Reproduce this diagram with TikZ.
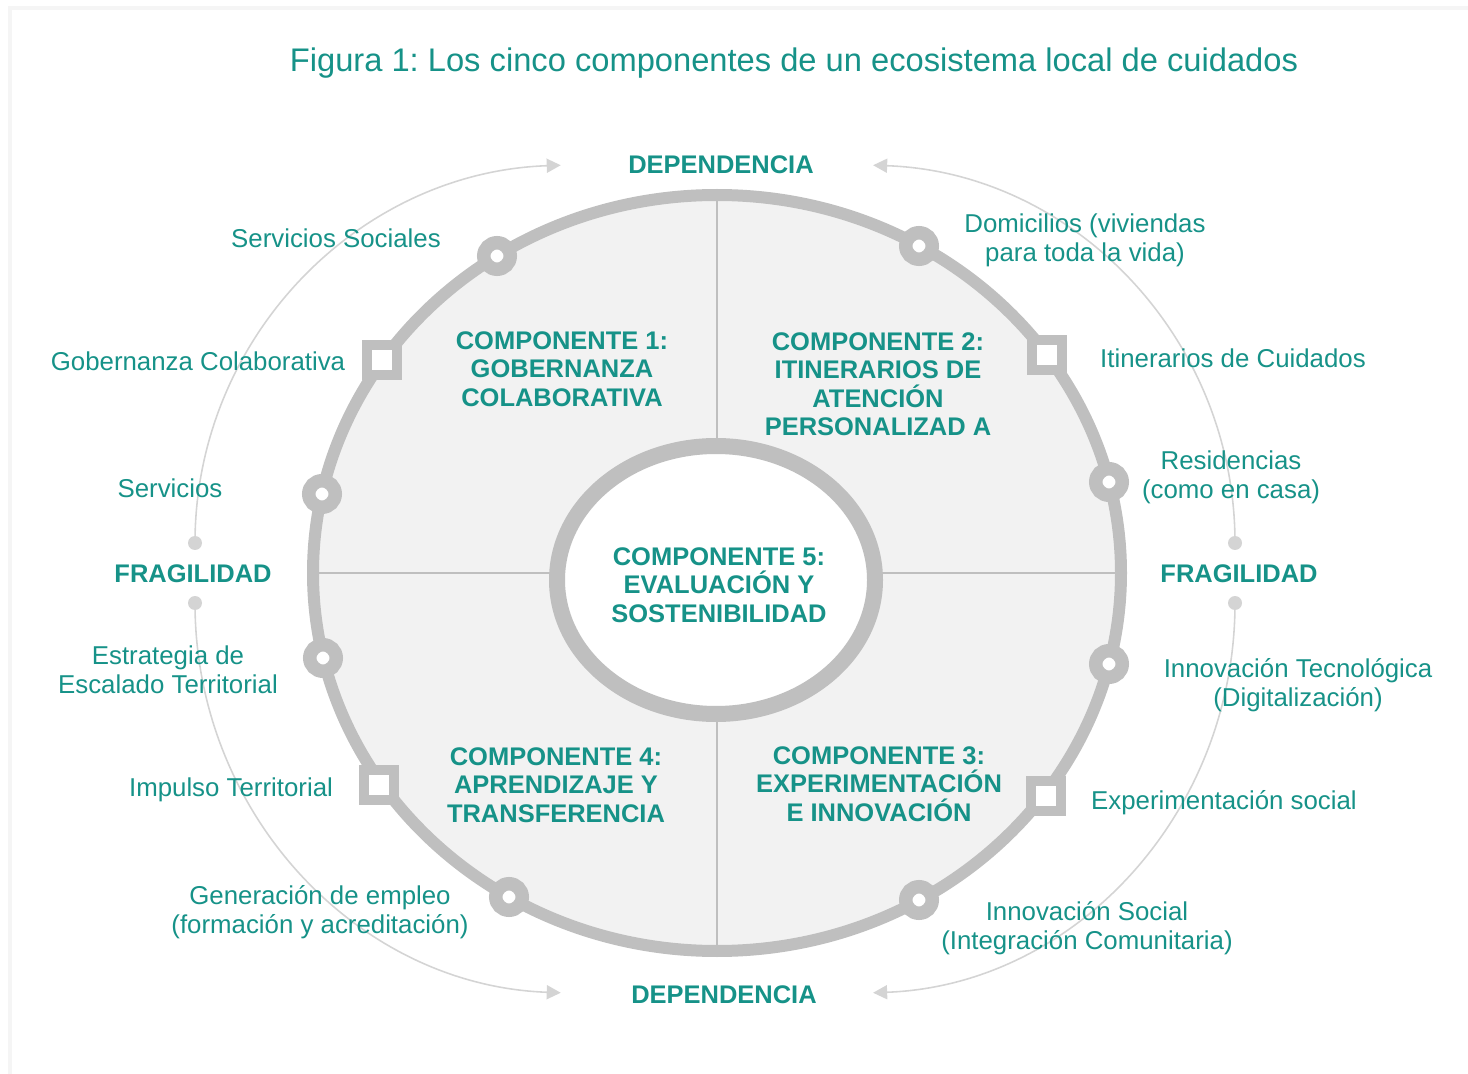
\documentclass[tikz,border=0pt]{standalone}
\usepackage{fontspec}
\setmainfont{Liberation Sans}
\frenchspacing
\usetikzlibrary{positioning}
\usetikzlibrary{arrows.meta}
\definecolor{cuidteal}{RGB}{22,146,136}
\definecolor{ringgray}{RGB}{191,191,191}
\definecolor{fillgray}{RGB}{242,242,242}
\definecolor{arcgray}{RGB}{212,212,212}
\tikzstyle{ringm} = [circle,draw=ringgray,fill=white,line width=0.27cm,minimum size=0.53cm,inner sep=0pt]
\tikzstyle{squarem} = [rectangle,draw=ringgray,fill=white,line width=0.2cm,minimum size=0.6cm,inner sep=0pt]
\tikzstyle{comp} = [text=cuidteal,font=\fontsize{14.5}{16.2}\selectfont\bfseries,align=center]
\tikzstyle{lab} = [text=cuidteal,font=\fontsize{14.7}{16.4}\selectfont,align=center]
\tikzstyle{dot} = [circle,fill=arcgray,minimum size=0.28cm,inner sep=0pt]
\tikzstyle{flow} = [draw=arcgray,line width=0.9pt]
\tikzset{>={Triangle[length=8pt,width=8pt]}}

\begin{document}
\begin{tikzpicture}[x=0.02cm,y=-0.02cm]
  \useasboundingbox (0,0) rectangle (1468,1074);
  \draw [black!4,line width=0.08cm] (10,1074) -- (10,8) -- (1468,8);

  \node [text=cuidteal,font=\fontsize{18.6}{21}\selectfont] (title) at (794,63)
  {Figura 1: Los cinco componentes de un ecosistema local de cuidados};

  % outer flows
  \node [dot] (dl1) at (195,543) {};
  \node [dot] (dl2) at (195,603) {};
  \node [dot] (dr1) at (1235,543) {};
  \node [dot] (dr2) at (1235,603) {};
  \draw [flow,->] (dl1.center) arc [start angle=180,end angle=268,x radius=379,y radius=378];
  \draw [flow,->] (dl2.center) arc [start angle=180,end angle=92,x radius=379,y radius=390];
  \draw [flow,->] (dr1.center) arc [start angle=0,end angle=-88,x radius=375,y radius=378];
  \draw [flow,->] (dr2.center) arc [start angle=0,end angle=88,x radius=375,y radius=390];

  % ring
  \draw [ringgray,line width=0.24cm,fill=fillgray] (717,573) ellipse [x radius=404,y radius=378];
  \draw [ringgray,line width=0.04cm] (717,195) -- (717,951);
  \draw [ringgray,line width=0.04cm] (313,573) -- (1121,573);
  \draw [ringgray,line width=0.32cm,fill=white] (716,580) ellipse [x radius=159,y radius=134];

  \node [ringm] (m1) at (497,256) {};
  \node [squarem] (s1) at (382,360) {};
  \node [ringm] (m2) at (322,494) {};
  \node [ringm] (m3) at (323,658) {};
  \node [squarem] (s2) at (379,785) {};
  \node [ringm] (m4) at (509,897) {};
  \node [ringm] (m5) at (919,246) {};
  \node [squarem] (s3) at (1047,355) {};
  \node [ringm] (m6) at (1109,482) {};
  \node [ringm] (m7) at (1109,664) {};
  \node [squarem] (s4) at (1046,796) {};
  \node [ringm] (m8) at (919,900) {};

  % components
  \node [comp] (c1) at (562,369) {COMPONENTE 1:\\GOBERNANZA\\COLABORATIVA};
  \node [comp] (c2) at (878,384) {COMPONENTE 2:\\ITINERARIOS DE\\ATENCIÓN\\PERSONALIZAD A};
  \node [comp] (c5) at (719,585) {COMPONENTE 5:\\EVALUACIÓN Y\\SOSTENIBILIDAD};
  \node [comp] (c4) at (556,785) {COMPONENTE 4:\\APRENDIZAJE Y\\TRANSFERENCIA};
  \node [comp] (c3) at (879,784) {COMPONENTE 3:\\EXPERIMENTACIÓN\\E INNOVACIÓN};

  \node [comp] (depT) at (721,165) {DEPENDENCIA};
  \node [comp] (depB) at (724,995) {DEPENDENCIA};
  \node [comp] (fragL) at (193,574) {FRAGILIDAD};
  \node [comp] (fragR) at (1239,574) {FRAGILIDAD};

  % labels
  \node [lab] (l1) at (336,238) {Servicios Sociales};
  \node [lab] (l2) at (198,361) {Gobernanza Colaborativa};
  \node [lab] (l3) at (170,488) {Servicios};
  \node [lab] (l4) at (168,670) {Estrategia de\\Escalado Territorial};
  \node [lab] (l5) at (231,790) {Impulso Territorial};
  \node [lab] (l6) at (320,912) {Generación de empleo\\(formación y acreditación)};
  \node [lab] (r1) at (1085,240) {Domicilios (viviendas\\para toda la vida)};
  \node [lab] (r2) at (1233,358) {Itinerarios de Cuidados};
  \node [lab] (r3) at (1231,477) {Residencias\\(como en casa)};
  \node [lab] (r4) at (1298,685) {Innovación Tecnológica\\(Digitalización)};
  \node [lab] (r5) at (1224,803) {Experimentación social};
  \node [lab] (r6) at (1087,928) {Innovación Social\\(Integración Comunitaria)};
\end{tikzpicture}
\end{document}
